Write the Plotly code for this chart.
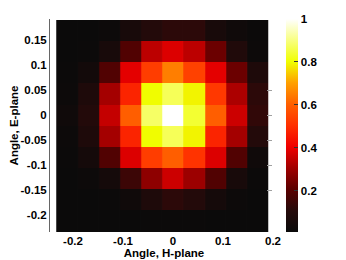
import plotly.graph_objects as go

# Angles (cell centres)
h_angles = [-0.212, -0.169, -0.127, -0.085, -0.042, 0.0, 0.042, 0.085, 0.127, 0.169]
e_angles = [0.169, 0.127, 0.085, 0.042, 0.0, -0.042, -0.085, -0.127, -0.169, -0.212]  # top to bottom

# Normalised intensity, rows top (E=+0.169) to bottom (E=-0.212)
row_e_p169 = [0.010, 0.010, 0.020, 0.060, 0.100, 0.120, 0.120, 0.060, 0.030, 0.015]
row_e_p127 = [0.010, 0.015, 0.060, 0.190, 0.340, 0.380, 0.340, 0.230, 0.090, 0.020]
row_e_p085 = [0.015, 0.040, 0.190, 0.390, 0.530, 0.650, 0.540, 0.390, 0.230, 0.080]
row_e_p042 = [0.020, 0.080, 0.310, 0.480, 0.800, 0.870, 0.790, 0.520, 0.320, 0.120]
row_e_0 = [0.030, 0.100, 0.350, 0.600, 0.880, 1.000, 0.840, 0.600, 0.360, 0.130]
row_e_m042 = [0.020, 0.080, 0.310, 0.480, 0.800, 0.870, 0.790, 0.480, 0.310, 0.100]
row_e_m085 = [0.015, 0.050, 0.190, 0.380, 0.530, 0.600, 0.510, 0.380, 0.190, 0.030]
row_e_m127 = [0.010, 0.020, 0.050, 0.150, 0.280, 0.360, 0.300, 0.190, 0.060, 0.015]
row_e_m169 = [0.010, 0.010, 0.015, 0.030, 0.080, 0.120, 0.100, 0.050, 0.020, 0.010]
row_e_m212 = [0.010, 0.010, 0.010, 0.012, 0.015, 0.015, 0.015, 0.012, 0.010, 0.010]

rows_top_down = [row_e_p169, row_e_p127, row_e_p085, row_e_p042, row_e_0,
                 row_e_m042, row_e_m085, row_e_m127, row_e_m169, row_e_m212]

x_tick_vals = [-0.2, -0.1, 0, 0.1, 0.2]
x_tick_text = ["-0.2", "-0.1", "0", "0.1", "0.2"]
y_tick_vals = [-0.2, -0.15, -0.1, -0.05, 0, 0.05, 0.1, 0.15]
y_tick_text = ["-0.2", "-0.15", "-0.1", "-0.05", "0", "0.05", "0.1", "0.15"]
cb_tick_vals = [0.2, 0.4, 0.6, 0.8, 1]
cb_tick_text = ["0.2", "0.4", "0.6", "0.8", "1"]
right_tick_vals = [-0.15, -0.1, -0.05, 0, 0.05]

hot_scale = [
    [0.0, "#0a0a0a"], [0.1, "#250a0a"], [0.2, "#5a0000"], [0.3, "#a00000"],
    [0.4, "#f00000"], [0.5, "#ff3000"], [0.6, "#ff6000"], [0.7, "#ffa000"],
    [0.8, "#f0ff00"], [0.9, "#f8ff80"], [1.0, "#ffffff"],
]

font_b = dict(family="Liberation Sans, Arial, sans-serif", size=11.5, color="black", weight="bold")

fig = go.Figure()
fig.add_trace(go.Heatmap(
    x=h_angles,
    y=e_angles[::-1],
    z=rows_top_down[::-1],
    colorscale=hot_scale,
    zmin=0.008, zmax=1.0,
    zsmooth=False,
    xgap=0.01,
    colorbar=dict(
        x=(286 - 50) / 228, xanchor="left", xpad=0,
        y=0.5, yanchor="middle", len=1.0, lenmode="fraction", ypad=0,
        thickness=12, outlinewidth=0,
        tickvals=cb_tick_vals, ticktext=cb_tick_text,
        ticks="inside", ticklen=4, tickcolor="#333333",
        tickfont=font_b,
    ),
    showscale=True,
    hoverinfo="skip",
))

# empty trace to host the right-side tick marks
fig.add_trace(go.Scatter(x=[None], y=[None], yaxis="y2", showlegend=False, hoverinfo="skip"))

# page body has an 8px margin, so the figure is 8px smaller and offsets are shifted
fig.update_layout(
    width=338, height=252,
    margin=dict(l=42, r=68, t=11, b=28, pad=0, autoexpand=False),
    paper_bgcolor="white", plot_bgcolor="white",
    showlegend=False,
    xaxis=dict(
        range=[-0.246, 0.21], tickvals=x_tick_vals, ticktext=x_tick_text,
        showgrid=False, zeroline=False, showline=False, ticks="",
        tickfont=font_b, automargin=False,
        title=dict(text="Angle, H-plane", font=font_b, standoff=3),
    ),
    yaxis=dict(
        range=[-0.234, 0.192], tickvals=y_tick_vals, ticktext=y_tick_text,
        showgrid=False, zeroline=False, showline=True, linecolor="#666666", linewidth=1,
        ticks="", tickfont=font_b, automargin=False,
        title=dict(text="Angle, E-plane", font=font_b, standoff=3),
    ),
    yaxis2=dict(
        overlaying="y", side="right", anchor="free", position=(272 - 50) / 228,
        range=[-0.234, 0.192], tickvals=right_tick_vals, automargin=False,
        showticklabels=False, ticks="inside", ticklen=5, tickcolor="#a0a0a0", tickwidth=1,
        showgrid=False, zeroline=False, showline=False,
    ),
)

fig.write_html("out.html")
